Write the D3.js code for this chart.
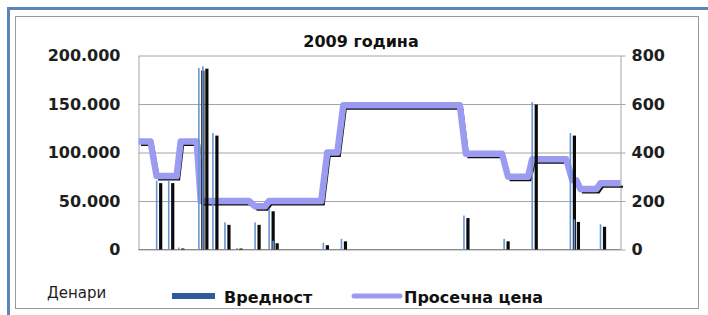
<!DOCTYPE html>
<html>
<head>
<meta charset="utf-8">
<script src="https://cdn.jsdelivr.net/npm/d3@7"></script>
<style>
    body { margin: 0; background: #fff; }
    svg { display: block; }
    text { font-family: "DejaVu Sans", Verdana, sans-serif; }
</style>
</head>
<body>
<div id="chart"></div>
<script>
// trading days with a turnover (Вредност, denars) and the value on that day
var tradeDays = [9, 15, 20, 30, 32, 37, 43, 49, 58, 65, 67, 92, 101, 162, 182, 196, 215, 217, 230];
var tradeValues = [71000, 71000, 2000, 187000, 189000, 120000, 28000, 1500, 28000, 42000, 9000, 7000, 11000, 35000, 11000, 152000, 120000, 31000, 26000];

// average price (Просечна цена) points
var priceDays = [0, 6, 9, 19, 21, 29, 31, 55, 58, 63, 65, 91, 94, 99, 102, 160, 163, 181, 184, 194, 196, 213, 216, 218, 220, 228, 230, 240];
var prices = [445, 445, 303, 303, 445, 445, 200, 200, 178, 178, 200, 200, 400, 400, 595, 595, 395, 395, 300, 300, 372, 372, 286, 286, 250, 250, 273, 273];

var leftTicks = [0, 50000, 100000, 150000, 200000];
var rightTicks = [0, 200, 400, 600, 800];

var width = 708, height = 315;
var plot = {left: 138.5, right: 620.5, top: 55.5, bottom: 249.5};

var svg = d3.select("#chart").append("svg")
    .attr("width", width)
    .attr("height", height);

// frame
svg.append("line").attr("x1", 8.5).attr("x2", 8.5).attr("y1", 7).attr("y2", height)
    .attr("stroke", "#5a86b8").attr("stroke-width", 3);
svg.append("line").attr("x1", 7).attr("x2", width).attr("y1", 8.5).attr("y2", 8.5)
    .attr("stroke", "#5a86b8").attr("stroke-width", 3);
svg.append("rect").attr("x", 15.5).attr("y", 16.5).attr("width", 683).attr("height", 292)
    .attr("fill", "none").attr("stroke", "#9a9a9a");

var x = d3.scaleLinear().domain([0, 240]).range([plot.left, plot.right]);
var yL = d3.scaleLinear().domain([0, 200000]).range([plot.bottom, plot.top]);
var yR = d3.scaleLinear().domain([0, 800]).range([plot.bottom, plot.top]);

var mk = d3.formatLocale({decimal: ",", thousands: ".", grouping: [3], currency: ["", ""]});
var fmt = mk.format(",");

var leftAxis = svg.append("g")
    .attr("transform", "translate(" + plot.left + ",0)")
    .call(d3.axisLeft(yL).tickValues(leftTicks).tickFormat(fmt)
        .tickSizeInner(-(plot.right - plot.left)).tickSizeOuter(0).tickPadding(18));
leftAxis.selectAll("line").attr("stroke", "#a4a4a4");
leftAxis.select(".domain").attr("stroke", "#a4a4a4");
leftAxis.selectAll("text").attr("font-size", 16).attr("font-weight", "bold").attr("fill", "#1e1e1e");

var rightAxis = svg.append("g")
    .attr("transform", "translate(" + plot.right + ",0)")
    .call(d3.axisRight(yR).tickValues(rightTicks).tickSizeInner(5).tickSizeOuter(0).tickPadding(6));
rightAxis.selectAll("line").attr("stroke", "#a4a4a4");
rightAxis.select(".domain").attr("stroke", "#a4a4a4");
rightAxis.selectAll("text").attr("font-size", 16).attr("font-weight", "bold").attr("fill", "#1e1e1e");

svg.append("line").attr("x1", plot.left).attr("x2", plot.right)
    .attr("y1", plot.bottom).attr("y2", plot.bottom).attr("stroke", "#8c8c8c");

// price line with its shadow
var pts = priceDays.map(function (d, i) { return [d, prices[i]]; });
var line = d3.line()
    .x(function (d) { return x(d[0]); })
    .y(function (d) { return yR(d[1]); });

svg.append("path").datum(pts)
    .attr("d", line)
    .attr("transform", "translate(2.5,3.5)")
    .attr("fill", "none").attr("stroke", "#111").attr("stroke-width", 2);
svg.append("path").datum(pts)
    .attr("d", line)
    .attr("fill", "none").attr("stroke", "#9b9bf2").attr("stroke-width", 6.5)
    .attr("stroke-linejoin", "round");

// bars: black shadow + thin blue bar
var bars = tradeDays.map(function (d, i) { return {day: d, v: tradeValues[i]}; });
svg.append("g").selectAll("rect")
    .data(bars)
    .enter()
    .append("rect")
    .attr("x", function (d) { return x(d.day) + 2.5; })
    .attr("width", 3.2)
    .attr("y", function (d) { return Math.min(yL(d.v) + 2.5, plot.bottom - 1); })
    .attr("height", function (d) { return plot.bottom - Math.min(yL(d.v) + 2.5, plot.bottom - 1); })
    .attr("fill", "#0a0a0a");
svg.append("g").selectAll("rect")
    .data(bars)
    .enter()
    .append("rect")
    .attr("x", function (d) { return x(d.day) - 0.7; })
    .attr("width", 1.6)
    .attr("y", function (d) { return yL(d.v); })
    .attr("height", function (d) { return plot.bottom - yL(d.v); })
    .attr("fill", "#6b95d2");

// title
svg.append("text")
    .attr("x", 361).attr("y", 47)
    .attr("text-anchor", "middle")
    .attr("font-size", 16).attr("font-weight", "bold").attr("fill", "#111")
    .text("2009 година");

// legend
svg.append("text").attr("x", 47).attr("y", 298)
    .attr("font-size", 15).attr("fill", "#1e1e1e").text("Денари");

var lg = svg.append("g");
lg.append("rect").attr("x", 172).attr("y", 293).attr("width", 43).attr("height", 6)
    .attr("fill", "#2d5c9c");
lg.append("text").attr("x", 224).attr("y", 303)
    .attr("font-size", 16).attr("font-weight", "bold").attr("fill", "#111").text("Вредност");
lg.append("line").attr("x1", 354).attr("x2", 400).attr("y1", 296).attr("y2", 296)
    .attr("stroke", "#9b9bf2").attr("stroke-width", 5).attr("stroke-linecap", "round");
lg.append("text").attr("x", 404).attr("y", 303)
    .attr("font-size", 16).attr("font-weight", "bold").attr("fill", "#111").text("Просечна цена");
</script>
</body>
</html>
